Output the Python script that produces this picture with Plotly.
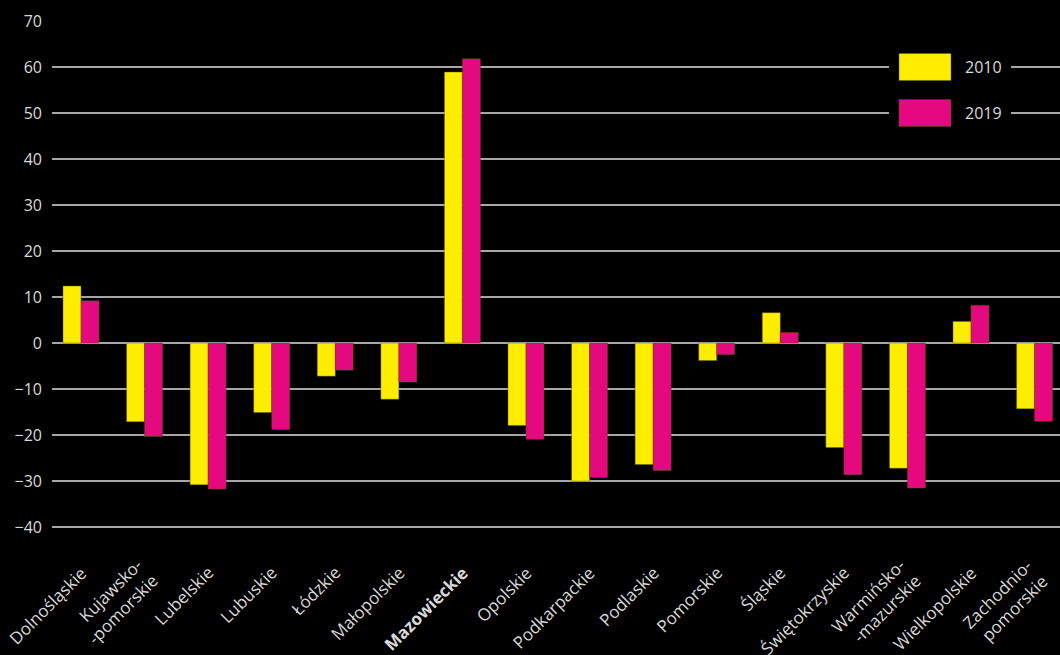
import math
import plotly.graph_objects as go

categories = ["Dolnośląskie", "Kujawsko-<br>-pomorskie", "Lubelskie", "Lubuskie", "Łódzkie",
              "Małopolskie", "<b>Mazowieckie</b>", "Opolskie", "Podkarpackie", "Podlaskie",
              "Pomorskie", "Śląskie", "Świętokrzyskie", "Warmińsko-<br>-mazurskie",
              "Wielkopolskie", "Zachodnio-<br>pomorskie"]
values_2010 = [12.4, -17.1, -30.8, -15.1, -7.2, -12.2, 58.9, -17.9, -30.0, -26.4,
               -3.8, 6.6, -22.7, -27.2, 4.7, -14.3]
values_2019 = [9.2, -20.3, -31.7, -18.8, -5.9, -8.5, 61.8, -20.9, -29.2, -27.7,
               -2.5, 2.3, -28.6, -31.5, 8.2, -17.0]
y_ticks = [-40, -30, -20, -10, 0, 10, 20, 30, 40, 50, 60, 70]
series_names = ["2010", "2019"]
colors = ["#FFED00", "#E5097F"]

FONT = "Open Sans"
TXT = "#d9d9d9"
x_idx = list(range(len(categories)))

fig = go.Figure()
for name, vals, col in zip(series_names, [values_2010, values_2019], colors):
    fig.add_trace(go.Bar(x=x_idx, y=vals, name=name, marker_color=col,
                         marker_line=dict(width=0.6, color="rgba(90,90,0,0.7)"),
                         showlegend=False))

W, H = 1060, 655
# y=70 at 21 px, y=-40 at 527.5 px (4.6045 px per unit); range extended to -41.5
Y_MIN = -41.5
ml, mr, mt = 52, 0, 21
mb = H - (527.5 + (-40 - Y_MIN) * 506.5 / 110)
pw, ph = W - ml - mr, H - mt - mb

def px_x(p):
    return (p - ml) / pw

def px_y(p):
    return 1 - (p - mt) / ph

# custom legend: black box interrupting gridlines, swatches and labels
shapes = [dict(type="rect", xref="paper", yref="paper", layer="above",
               x0=px_x(889), x1=px_x(1011), y0=px_y(130), y1=px_y(45),
               fillcolor="black", line=dict(width=0))]
annotations = []
for i, (name, col) in enumerate(zip(series_names, colors)):
    cy = 67 + i * 46
    shapes.append(dict(type="rect", xref="paper", yref="paper", layer="above",
                       x0=px_x(899), x1=px_x(951), y0=px_y(cy + 13.5), y1=px_y(cy - 13.5),
                       fillcolor=col, line=dict(width=0.6, color="rgba(90,90,0,0.7)")))
    annotations.append(dict(xref="paper", yref="paper", x=px_x(963), y=px_y(cy),
                            xanchor="left", yanchor="middle", text=name, showarrow=False,
                            font=dict(family=FONT, size=16, color=TXT)))

# rotated category labels (text end placed just right of each category centre)
LAB_SIZE = 17
for i, lab in enumerate(categories):
    n = lab.count("<br>") + 1
    off = n * LAB_SIZE * 1.3 / (2 * math.sqrt(2))
    annotations.append(dict(xref="x", yref="paper", x=i, y=px_y(567 - off), xshift=5 + off,
                            xanchor="right", yanchor="top", textangle=-45, align="right",
                            text=lab, showarrow=False,
                            font=dict(family=FONT, size=LAB_SIZE, color=TXT)))

fig.update_layout(
    width=W, height=H,
    margin=dict(l=ml, r=mr, t=mt, b=mb, pad=0),
    paper_bgcolor="black", plot_bgcolor="black",
    barmode="group", bargap=0.434, bargroupgap=0,
    font=dict(family=FONT, size=16, color=TXT),
    shapes=shapes, annotations=annotations,
    xaxis=dict(range=[-0.456, 15.40], tickmode="array", tickvals=x_idx,
               showticklabels=False, showgrid=False, zeroline=False,
               showline=False, ticks=""),
    yaxis=dict(range=[Y_MIN, 70], tickmode="array", tickvals=y_ticks,
               showgrid=True, gridcolor="#a6a6a6", gridwidth=1.5,
               zeroline=True, zerolinecolor="#a6a6a6", zerolinewidth=1.5,
               showline=False, ticks="", ticklabelstandoff=9,
               tickfont=dict(family=FONT, size=16, color=TXT)),
)

fig.write_html("out.html", config={"displayModeBar": False},
               post_script="document.body.style.margin='0';document.body.style.overflow='hidden';")
